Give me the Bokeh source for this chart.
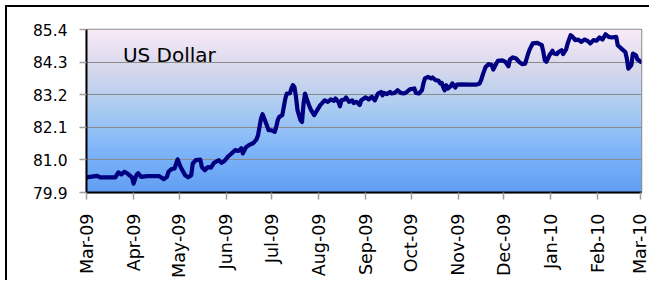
import math
import numpy as np
import pandas as pd
from bokeh.plotting import figure
from bokeh.models import FixedTicker, PrintfTickFormatter, Range1d, Label
from bokeh.embed import file_html
from bokeh.resources import INLINE

# ---- data ----
dates = [
    "2009-03-01", "2009-03-08", "2009-03-10", "2009-03-20", "2009-03-22", "2009-03-24", "2009-03-26",
    "2009-03-28", "2009-03-31", "2009-04-01", "2009-04-03", "2009-04-04", "2009-04-06", "2009-04-10",
    "2009-04-18", "2009-04-21", "2009-04-23", "2009-04-24", "2009-04-26", "2009-04-28", "2009-04-30",
    "2009-05-02", "2009-05-05", "2009-05-07", "2009-05-09", "2009-05-10", "2009-05-12", "2009-05-15",
    "2009-05-16", "2009-05-18", "2009-05-20", "2009-05-22", "2009-05-24", "2009-05-27", "2009-05-29",
    "2009-05-31", "2009-06-02", "2009-06-04", "2009-06-07", "2009-06-09", "2009-06-11", "2009-06-12",
    "2009-06-14", "2009-06-16", "2009-06-19", "2009-06-21", "2009-06-22", "2009-06-24", "2009-06-25",
    "2009-06-27", "2009-06-29", "2009-07-01", "2009-07-03", "2009-07-04", "2009-07-05", "2009-07-06",
    "2009-07-08", "2009-07-09", "2009-07-10", "2009-07-11", "2009-07-13", "2009-07-14", "2009-07-15",
    "2009-07-16", "2009-07-17", "2009-07-18", "2009-07-20", "2009-07-21", "2009-07-22", "2009-07-23",
    "2009-07-24", "2009-07-26", "2009-07-27", "2009-07-29", "2009-07-31", "2009-08-02", "2009-08-04",
    "2009-08-05", "2009-08-07", "2009-08-09", "2009-08-11", "2009-08-12", "2009-08-14", "2009-08-15",
    "2009-08-16", "2009-08-18", "2009-08-19", "2009-08-21", "2009-08-23", "2009-08-24", "2009-08-26",
    "2009-08-28", "2009-08-29", "2009-09-01", "2009-09-03", "2009-09-05", "2009-09-07", "2009-09-09",
    "2009-09-11", "2009-09-12", "2009-09-13", "2009-09-15", "2009-09-17", "2009-09-18", "2009-09-20",
    "2009-09-22", "2009-09-24", "2009-09-26", "2009-09-28", "2009-09-30", "2009-10-03", "2009-10-04",
    "2009-10-06", "2009-10-08", "2009-10-09", "2009-10-10", "2009-10-12", "2009-10-14", "2009-10-15",
    "2009-10-17", "2009-10-19", "2009-10-20", "2009-10-21", "2009-10-22", "2009-10-23", "2009-10-24",
    "2009-10-25", "2009-10-27", "2009-10-28", "2009-10-30", "2009-10-31", "2009-11-03", "2009-11-09",
    "2009-11-13", "2009-11-15", "2009-11-16", "2009-11-17", "2009-11-19", "2009-11-21", "2009-11-23",
    "2009-11-24", "2009-11-26", "2009-11-27", "2009-11-30", "2009-12-02", "2009-12-04", "2009-12-05",
    "2009-12-07", "2009-12-09", "2009-12-11", "2009-12-13", "2009-12-15", "2009-12-17", "2009-12-18",
    "2009-12-20", "2009-12-23", "2009-12-26", "2009-12-27", "2009-12-28", "2009-12-29", "2009-12-31",
    "2010-01-02", "2010-01-03", "2010-01-05", "2010-01-06", "2010-01-08", "2010-01-09", "2010-01-11",
    "2010-01-12", "2010-01-14", "2010-01-15", "2010-01-17", "2010-01-19", "2010-01-21", "2010-01-23",
    "2010-01-25", "2010-01-27", "2010-01-29", "2010-01-31", "2010-02-02", "2010-02-04", "2010-02-06",
    "2010-02-08", "2010-02-10", "2010-02-13", "2010-02-14", "2010-02-17", "2010-02-19", "2010-02-20",
    "2010-02-21", "2010-02-23", "2010-02-24", "2010-02-26", "2010-02-27", "2010-02-28", "2010-03-01",
]
usd = [
    80.41, 80.46, 80.41, 80.41, 80.58, 80.51, 80.60,
    80.54, 80.41, 80.20, 80.50, 80.55, 80.43, 80.45,
    80.45, 80.35, 80.43, 80.60, 80.69, 80.71, 81.02,
    80.76, 80.48, 80.41, 80.48, 80.88, 80.99, 81.01,
    80.76, 80.65, 80.76, 80.74, 80.90, 80.99, 80.90,
    80.97, 81.10, 81.19, 81.33, 81.30, 81.39, 81.22,
    81.42, 81.50, 81.57, 81.69, 81.83, 82.40, 82.54,
    82.28, 82.00, 82.00, 81.95, 82.11, 82.34, 82.45,
    82.51, 82.79, 83.07, 83.24, 83.24, 83.41, 83.52,
    83.46, 83.13, 82.68, 82.34, 82.28, 82.90, 83.24,
    83.07, 82.79, 82.68, 82.51, 82.68, 82.85, 82.96,
    83.01, 82.96, 83.04, 82.99, 83.07, 82.96, 82.81,
    83.01, 83.04, 83.11, 82.96, 83.01, 82.92, 82.96,
    82.85, 83.01, 83.11, 83.04, 83.13, 83.01, 83.24,
    83.29, 83.18, 83.26, 83.22, 83.29, 83.24, 83.26,
    83.35, 83.26, 83.24, 83.29, 83.38, 83.41, 83.26,
    83.24, 83.35, 83.58, 83.75, 83.80, 83.75, 83.78,
    83.69, 83.67, 83.58, 83.60, 83.46, 83.35, 83.52,
    83.41, 83.49, 83.58, 83.44, 83.54, 83.55, 83.54,
    83.54, 83.58, 83.69, 83.86, 84.14, 84.23, 84.20,
    84.05, 84.25, 84.34, 84.36, 84.31, 84.16, 84.39,
    84.46, 84.42, 84.31, 84.23, 84.25, 84.59, 84.73,
    84.93, 84.95, 84.87, 84.64, 84.36, 84.31, 84.53,
    84.68, 84.59, 84.57, 84.64, 84.70, 84.57, 84.73,
    84.93, 85.21, 85.17, 85.04, 85.06, 84.98, 85.06,
    85.02, 84.93, 85.04, 85.02, 85.13, 85.06, 85.24,
    85.15, 85.13, 85.15, 84.87, 84.73, 84.64, 84.42,
    84.08, 84.20, 84.59, 84.53, 84.39, 84.36, 84.31,
]
y_ticks = [79.9, 81.0, 82.1, 83.2, 84.3, 85.4]
month_starts = ["2009-03-01", "2009-04-01", "2009-05-01", "2009-06-01", "2009-07-01",
                "2009-08-01", "2009-09-01", "2009-10-01", "2009-11-01", "2009-12-01",
                "2010-01-01", "2010-02-01", "2010-03-01"]
month_labels = ["Mar-09", "Apr-09", "May-09", "Jun-09", "Jul-09", "Aug-09", "Sep-09",
                "Oct-09", "Nov-09", "Dec-09", "Jan-10", "Feb-10", "Mar-10"]
series_name = "US Dollar"

# ---- figure ----
x = pd.to_datetime(dates)
x_start = pd.Timestamp(month_starts[0])
x_end = pd.Timestamp(month_starts[-1]) + pd.Timedelta(hours=16)
y_start, y_end = y_ticks[0], y_ticks[-1]

FONT = "DejaVu Sans"

p = figure(
    x_axis_type="datetime",
    x_range=Range1d(x_start, x_end),
    y_range=Range1d(y_start, y_end),
    frame_width=555, frame_height=163,
    min_border_left=79, min_border_top=22, min_border_right=8, min_border_bottom=86,
    output_backend="svg", toolbar_location=None,
    background_fill_color="white", border_fill_color="white",
)
p.styles = {"border-left": "2px solid black", "border-top": "2px solid black",
            "margin-left": "5px", "margin-top": "5px"}
p.outline_line_color = "#8c8c8c"
p.outline_line_width = 1.5

# gradient background of the plot area
stops = np.array([0.0, 0.25, 0.5, 0.75, 1.0])  # 0 = top, 1 = bottom
cols = np.array([
    [249, 234, 248],
    [214, 216, 236],
    [168, 203, 242],
    [126, 181, 250],
    [98, 158, 242],
])
n = 200
t = np.linspace(1, 0, n)  # row 0 = bottom
img = np.empty((n, 1), dtype=np.uint32)
view = img.view(dtype=np.uint8).reshape((n, 1, 4))
for c in range(3):
    view[:, 0, c] = np.interp(t, stops, cols[:, c]).astype(np.uint8)
view[:, 0, 3] = 255
p.image_rgba(image=[img], x=x_start, y=y_start, dw=(x_end - x_start), dh=y_end - y_start,
             level="image")

p.line(x, usd, line_color="#000080", line_width=4.2, line_join="round", line_cap="round")

# axes
p.yaxis.ticker = FixedTicker(ticks=y_ticks)
p.yaxis.formatter = PrintfTickFormatter(format="%.1f")
tick_ms = [pd.Timestamp(d).value // 10**6 for d in month_starts]
p.xaxis.ticker = FixedTicker(ticks=tick_ms)
p.xaxis.major_label_overrides = {float(ms): lab for ms, lab in zip(tick_ms, month_labels)}
p.xaxis.major_label_orientation = math.pi / 2

for ax in (p.xaxis, p.yaxis):
    ax.axis_line_color = "black"
    ax.axis_line_width = 2
    ax.major_tick_line_color = "#a0a0a0"
    ax.major_tick_line_width = 1.5
    ax.major_tick_out = 7
    ax.major_tick_in = 0
    ax.minor_tick_line_color = None
    ax.major_label_text_font = FONT
    ax.major_label_text_color = "black"
p.yaxis.major_label_text_font_size = "15.5px"
p.yaxis.major_label_standoff = 12
p.xaxis.major_label_text_font_size = "17.5px"
p.xaxis.major_label_standoff = 14

p.xgrid.grid_line_color = None
p.ygrid.ticker = FixedTicker(ticks=y_ticks)
p.ygrid.grid_line_color = "#8a8a8a"
p.ygrid.grid_line_width = 1.2

p.add_layout(Label(x=pd.Timestamp("2009-03-25"), y=84.53, text=series_name,
                   text_font=FONT, text_font_size="20px", text_color="black",
                   text_baseline="alphabetic"))

open("out.html", "w").write(file_html(p, INLINE))
